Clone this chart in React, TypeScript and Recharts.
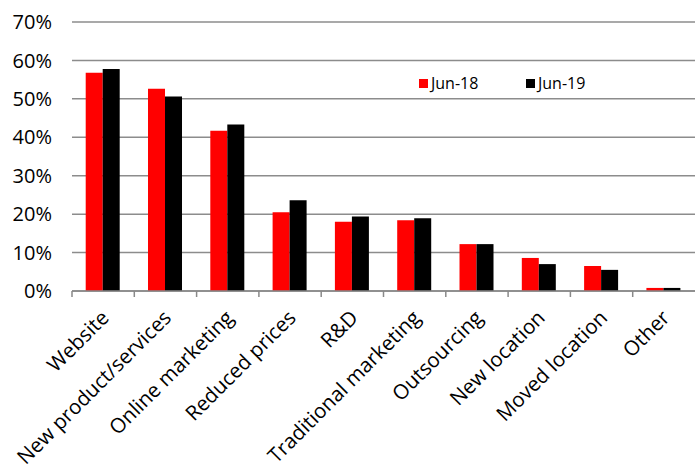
import { BarChart, Bar, XAxis, YAxis, CartesianGrid, Legend } from 'recharts';

const categories = [
  'Website',
  'New product/services',
  'Online marketing',
  'Reduced prices',
  'R&D',
  'Traditional marketing',
  'Outsourcing',
  'New location',
  'Moved location',
  'Other',
];
const jun18 = [56.8, 52.6, 41.7, 20.5, 18.0, 18.4, 12.2, 8.6, 6.5, 0.8];
const jun19 = [57.8, 50.6, 43.3, 23.6, 19.4, 18.9, 12.2, 7.0, 5.5, 0.8];
const yTicks = [0, 10, 20, 30, 40, 50, 60, 70];

const data = categories.map((name, i) => ({ name, jun18: jun18[i], jun19: jun19[i] }));

const WIDTH = 695;
const HEIGHT = 466;
const Y_AXIS_W = 72;
const step = (WIDTH - Y_AXIS_W) / categories.length;
const FONT = '"Open Sans", sans-serif';

function XTick(props: any) {
  const { x, y, payload } = props;
  const bx = x - step / 2;
  const tx = x + 7;
  const ty = y + 28;
  return (
    <g>
      <line x1={bx} x2={bx} y1={y} y2={y + 6} stroke="#898989" strokeWidth={1.5} />
      <text
        x={tx}
        y={ty}
        textAnchor="end"
        fontSize={20.5}
        fontFamily={FONT}
        fill="#000"
        transform={`rotate(-45, ${tx}, ${ty})`}
      >
        {payload.value}
      </text>
    </g>
  );
}

function LegendBox(props: any) {
  const { payload } = props;
  return (
    <div style={{ display: 'flex', fontFamily: FONT, fontSize: 16, color: '#000' }}>
      {(payload || []).map((p: any) => (
        <div key={p.value} style={{ display: 'flex', alignItems: 'center', width: 107 }}>
          <span style={{ width: 9, height: 9, background: p.color, marginRight: 3 }} />
          <span>{p.value}</span>
        </div>
      ))}
    </div>
  );
}

export default function App() {
  return (
    <div style={{ position: 'absolute', left: 0, top: 0, width: WIDTH, height: HEIGHT, background: '#fff' }}>
      <BarChart
        width={WIDTH}
        height={HEIGHT}
        data={data}
        margin={{ top: 22, right: 0, left: 0, bottom: 0 }}
        barCategoryGap="22%"
        barGap={0}
      >
        <CartesianGrid vertical={false} stroke="#8c8c8c" strokeWidth={1.5} />
        <XAxis
          dataKey="name"
          height={175}
          interval={0}
          tickLine={false}
          tickSize={0}
          tickMargin={0}
          axisLine={{ stroke: '#898989', strokeWidth: 1.5 }}
          tick={<XTick />}
        />
        <YAxis
          width={Y_AXIS_W}
          domain={[0, 70]}
          ticks={yTicks}
          axisLine={false}
          tickLine={false}
          tickSize={0}
          tickMargin={20}
          tickFormatter={(v: number) => `${v}%`}
          tick={{ fill: '#000', fontSize: 20, fontFamily: FONT }}
        />
        <Legend
          verticalAlign="middle"
          align="center"
          content={<LegendBox />}
          wrapperStyle={{ position: 'absolute', left: 419, top: 72, width: 220 }}
        />
        <Bar dataKey="jun18" name="Jun-18" fill="#ff0000" isAnimationActive={false} />
        <Bar dataKey="jun19" name="Jun-19" fill="#000000" isAnimationActive={false} />
      </BarChart>
    </div>
  );
}
